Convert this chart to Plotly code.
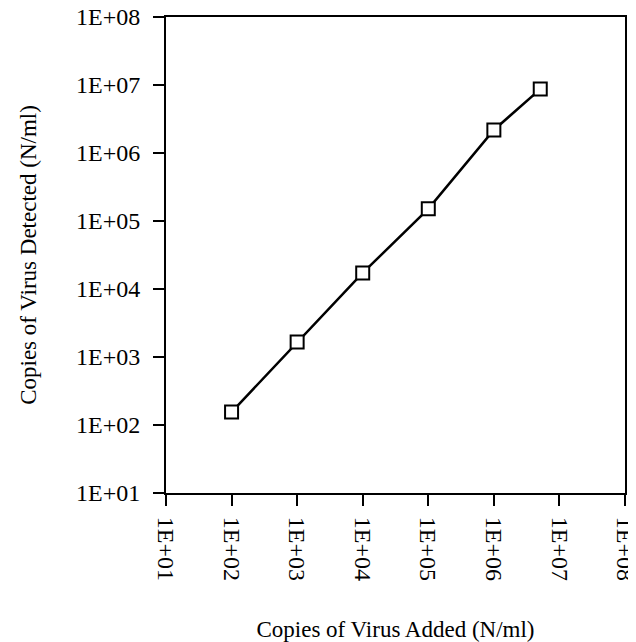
import plotly.graph_objects as go

# Data
copies_added = [1e2, 1e3, 1e4, 1e5, 1e6, 5.1e6]
copies_detected = [155, 1660, 17200, 151000, 2.18e6, 8.7e6]

tick_vals = [1e1, 1e2, 1e3, 1e4, 1e5, 1e6, 1e7, 1e8]
tick_text = ["1E+01", "1E+02", "1E+03", "1E+04", "1E+05", "1E+06", "1E+07", "1E+08"]

x_title = "Copies of Virus Added (N/ml)"
y_title = "Copies of Virus Detected (N/ml)"

FONT = "Liberation Serif, Times New Roman, serif"

fig = go.Figure()
fig.add_trace(go.Scatter(
    x=copies_added, y=copies_detected,
    mode="lines+markers",
    line=dict(color="black", width=2.5),
    marker=dict(symbol="square", size=13, color="white",
                line=dict(color="black", width=2)),
    showlegend=False,
))

axis_common = dict(
    type="log", range=[1, 8],
    tickvals=tick_vals, ticktext=tick_text,
    showgrid=False, zeroline=False, automargin=False,
    ticklabeloverflow="allow",
    showline=True, linecolor="black", linewidth=2, mirror=True,
    ticks="outside", ticklen=11, tickwidth=2, tickcolor="black",
    tickfont=dict(family=FONT, size=24, color="black"),
)

# The page body adds an 8px offset, so the figure is 8px smaller than the window
fig.update_layout(
    width=628, height=634,
    margin=dict(l=158, r=11, t=9, b=149),
    paper_bgcolor="white", plot_bgcolor="white",
    font=dict(family=FONT, color="black"),
    xaxis=dict(**axis_common, tickangle=90, ticklabelstandoff=6,
               title=dict(text=x_title, font=dict(family=FONT, size=23), standoff=42)),
    yaxis=dict(**axis_common, ticklabelstandoff=8,
               title=dict(text=y_title, font=dict(family=FONT, size=23), standoff=33)),
)

fig.write_html("out.html")
